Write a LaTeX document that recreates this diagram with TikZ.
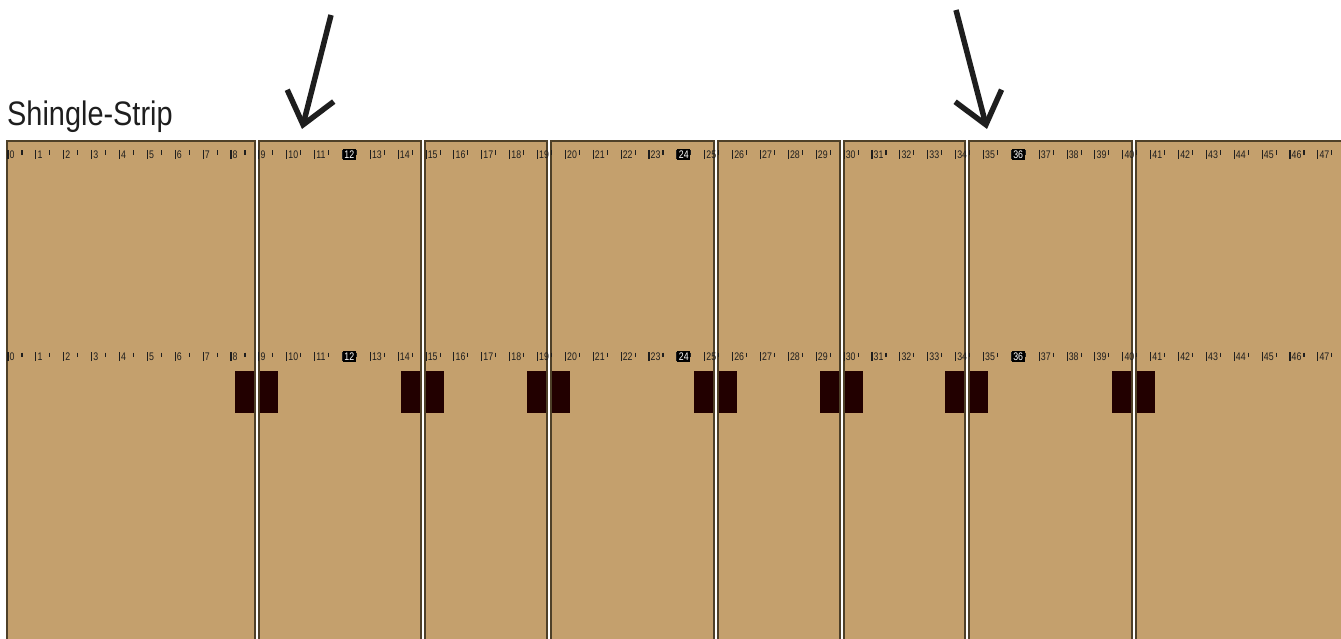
\documentclass[tikz,border=0pt]{standalone}
\usepackage{fontspec}
\newfontfamily\titlefont[FakeStretch=0.85]{Liberation Sans}
\newfontfamily\rulerfont[FakeStretch=0.8]{Liberation Sans}
\usetikzlibrary{arrows.meta}
\definecolor{cshingle}{HTML}{C4A06D}
\definecolor{cedge}{HTML}{4E4028}
\definecolor{cnail}{HTML}{220000}
\definecolor{cink}{HTML}{1E1E1E}
\tikzset{
  every picture/.style={x=1pt, y=-1pt},
  panel/.style={fill=cshingle},
  panel edge/.style={draw=cedge, line width=1.8pt},
  nail/.style={fill=cnail},
  tick/.style={draw=cink, line width=1.1pt},
  num/.style={font=\rulerfont\fontsize{11}{11}\selectfont, text=cink, anchor=base west, inner sep=0pt},
  marked/.style={num, fill=black, text=white, inner xsep=1.8pt, inner ysep=1.4pt},
  pointer/.style={-{Straight Barb[length=30pt, width=48pt]}, draw=cink, line width=5.5pt},
  title/.style={font=\titlefont\fontsize{34}{34}\selectfont, text=cink, anchor=base west, inner sep=0pt},
}

\begin{document}
\begin{tikzpicture}
  \useasboundingbox (0,0) rectangle (1341,639);
  \clip (0,0) rectangle (1341,639);
  \node[title] (title) at (7,125.5) {Shingle-Strip};
  % shingles
  \foreach \xa/\xb in {7/255, 259/421, 425/547, 551/714, 718/840, 844/965, 969/1132, 1136/1345}
    \fill[panel] (\xa,141) rectangle (\xb,650);
  % nails across the joints
  \foreach \xl/\xr in {255/259, 421/425, 547/551, 714/718, 840/844, 965/969, 1132/1136} {
    \fill[nail] ({(\xl+\xr)/2-22.5},371) rectangle ++(43,42);
    \fill[white] (\xl+0.9,371) rectangle (\xr-0.9,413);
  }
  \foreach \xa/\xb in {7/255, 259/421, 425/547, 551/714, 718/840, 844/965, 969/1132, 1136/1345}
    \draw[panel edge] (\xa,141) rectangle (\xb,650);
  % the two rulers
  \foreach \row/\base in {t/158.5, b/360.5} {
    \foreach \k in {0,...,47} {
      \pgfmathsetmacro\xk{8+27.87*\k}
      \draw[tick] (\xk,\base-8.5) -- (\xk,\base+0.8);
      \draw[tick] (\xk+14,\base-8) -- (\xk+14,\base-3.5);
      \ifnum\k=12 \node[marked] (\row\k) at (\xk,\base) {\k};
      \else\ifnum\k=24 \node[marked] (\row\k) at (\xk,\base) {\k};
      \else\ifnum\k=36 \node[marked] (\row\k) at (\xk,\base) {\k};
      \else \node[num] (\row\k) at (\xk+1.5,\base) {\k};
      \fi\fi\fi
    }
  }
  % pointers
  \coordinate (tailL) at (331,15);
  \coordinate (tipL) at (302,129);
  \coordinate (tailR) at (956,10);
  \coordinate (tipR) at (987,129);
  \draw[pointer] (tailL) -- (tipL);
  \draw[pointer] (tailR) -- (tipR);
\end{tikzpicture}
\end{document}
